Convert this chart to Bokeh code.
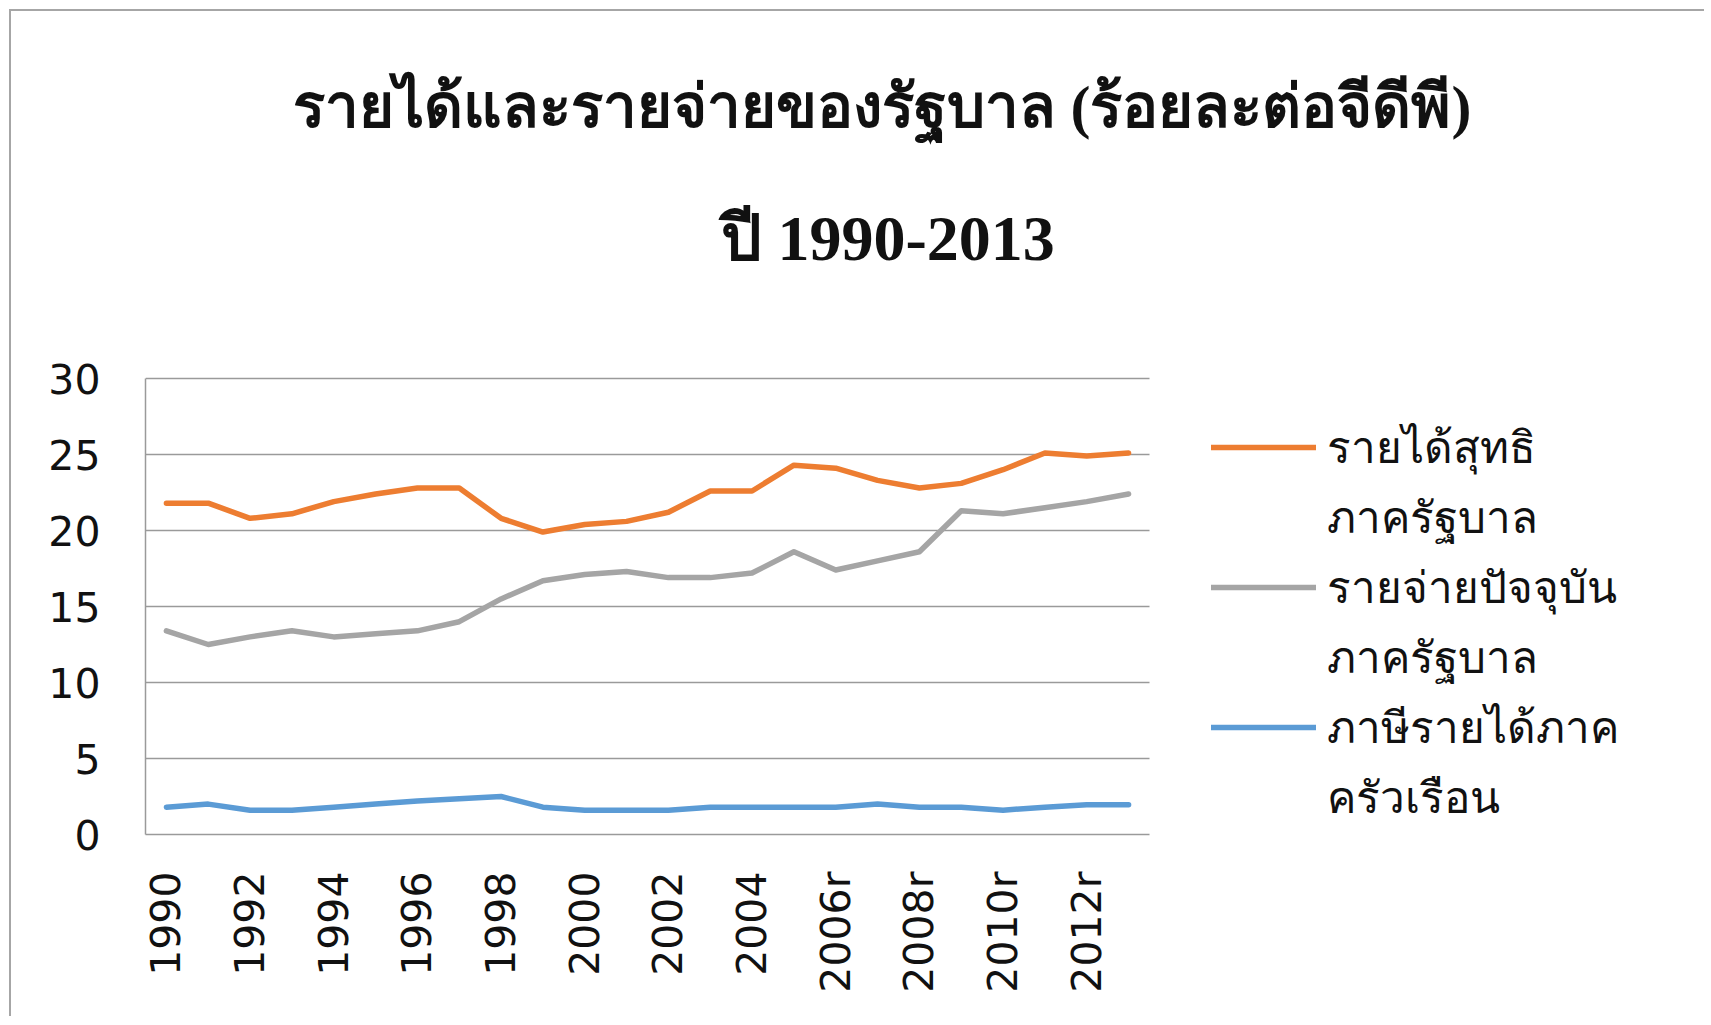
from bokeh.plotting import figure
from bokeh.models import Legend, LegendItem, Label, Range1d, FixedTicker
from bokeh.embed import file_html
from bokeh.resources import INLINE

# ---- data ----
years = ["1990", "1991", "1992", "1993", "1994", "1995", "1996", "1997",
         "1998", "1999", "2000", "2001", "2002", "2003", "2004", "2005",
         "2006r", "2007r", "2008r", "2009r", "2010r", "2011r", "2012r", "2013r"]
net_revenue = [21.8, 21.8, 20.8, 21.1, 21.9, 22.4, 22.8, 22.8, 20.8, 19.9, 20.4, 20.6,
               21.2, 22.6, 22.6, 24.3, 24.1, 23.3, 22.8, 23.1, 24.0, 25.1, 24.9, 25.1]
current_expenditure = [13.4, 12.5, 13.0, 13.4, 13.0, 13.2, 13.4, 14.0, 15.5, 16.7, 17.1, 17.3,
                       16.9, 16.9, 17.2, 18.6, 17.4, 18.0, 18.6, 21.3, 21.1, 21.5, 21.9, 22.4]
household_income_tax = [1.8, 2.0, 1.6, 1.6, 1.8, 2.0, 2.2, 2.35, 2.5, 1.8, 1.6, 1.6,
                        1.6, 1.8, 1.8, 1.8, 1.8, 2.0, 1.8, 1.8, 1.6, 1.8, 1.95, 1.95]
series_names = [("รายได้สุทธิ", "ภาครัฐบาล"),
                ("รายจ่ายปัจจุบัน", "ภาครัฐบาล"),
                ("ภาษีรายได้ภาค", "ครัวเรือน")]
series_colors = ["#ED7D31", "#A5A5A5", "#5B9BD5"]
y_ticks = [0, 5, 10, 15, 20, 25, 30]
shown_x_labels = ["1990", "1992", "1994", "1996", "1998", "2000", "2002", "2004",
                  "2006r", "2008r", "2010r", "2012r"]
title_line1 = "รายได้และรายจ่ายของรัฐบาล (ร้อยละต่อจีดีพี)"
title_line2 = "ปี 1990-2013"

n = len(years)
idx = list(range(n))
y_max = y_ticks[-1]
# the frame covers the whole chart box (title and legend are drawn inside it);
# data area is 1004 x 456 px at the lower left
x_end = -0.5 + n * 1555 / 1004
y_end = y_max * 823 / 456

p = figure(x_range=Range1d(-0.5, x_end), y_range=Range1d(0, y_end),
           width=1695, height=1007, output_backend="svg", toolbar_location=None,
           min_border_left=134, min_border_top=0, min_border_right=6, min_border_bottom=184)
p.styles = {"margin-left": "9px", "margin-top": "9px",
            "border-left": "2px solid #a6a6a6", "border-top": "2px solid #a6a6a6"}
p.outline_line_color = None
p.background_fill_color = "white"
p.border_fill_color = "white"

# horizontal gridlines limited to the data area
p.xgrid.grid_line_color = None
p.ygrid.grid_line_color = None
gl = y_ticks[1:]
p.segment(x0=[-0.5] * len(gl), x1=[n - 0.5] * len(gl), y0=gl, y1=gl,
          line_color="#9a9a9a", line_width=1.5)

renderers = []
for vals, col in zip([net_revenue, current_expenditure, household_income_tax], series_colors):
    r = p.line(x=idx, y=vals, line_color=col, line_width=5.5, line_join="round", line_cap="round")
    renderers.append(r)
# invisible renderer used only for the second line of each legend label
blank = p.line(x=[], y=[], line_alpha=0)

p.yaxis.ticker = FixedTicker(ticks=y_ticks)
p.yaxis.bounds = (0, y_max)
p.xaxis.ticker = FixedTicker(ticks=[years.index(s) for s in shown_x_labels])
p.xaxis.major_label_overrides = {years.index(s): s for s in shown_x_labels}
p.xaxis.bounds = (-0.5, n - 0.5)

for ax in (p.xaxis[0], p.yaxis[0]):
    ax.axis_line_color = "#9a9a9a"
    ax.axis_line_width = 1.5
    ax.major_tick_line_color = None
    ax.minor_tick_line_color = None
    ax.major_tick_out = 0
    ax.major_tick_in = 0
    ax.minor_tick_out = 0
    ax.major_label_text_font = "DejaVu Sans"
    ax.major_label_text_font_size = "41px"
    ax.major_label_text_color = "#111111"

p.yaxis.major_label_standoff = 45
p.xaxis.major_label_standoff = 37
p.xaxis.major_label_orientation = 3.14159265 / 2

# title (two lines)
p.add_layout(Label(x=147, y=728, x_units="screen", y_units="screen", text=title_line1,
                   text_align="left", text_baseline="alphabetic",
                   text_font="Liberation Serif", text_font_style="bold",
                   text_font_size="60px", text_color="#111111"))
p.add_layout(Label(x=575, y=596, x_units="screen", y_units="screen", text=title_line2,
                   text_align="left", text_baseline="alphabetic",
                   text_font="Liberation Serif", text_font_style="bold",
                   text_font_size="64px", text_color="#111111"))

items = []
for (l1, l2), r in zip(series_names, renderers):
    items.append(LegendItem(label=l1, renderers=[r]))
    items.append(LegendItem(label=l2, renderers=[blank]))

legend = Legend(items=items, location=(1066, 2), glyph_width=105, glyph_height=40,
                label_height=40, label_standoff=11, padding=0, margin=0, spacing=0,
                border_line_color=None, background_fill_alpha=0,
                label_text_font_size="44px", label_text_font="DejaVu Sans",
                label_text_color="#111111")
p.add_layout(legend, "center")

open("out.html", "w").write(file_html(p, INLINE))
